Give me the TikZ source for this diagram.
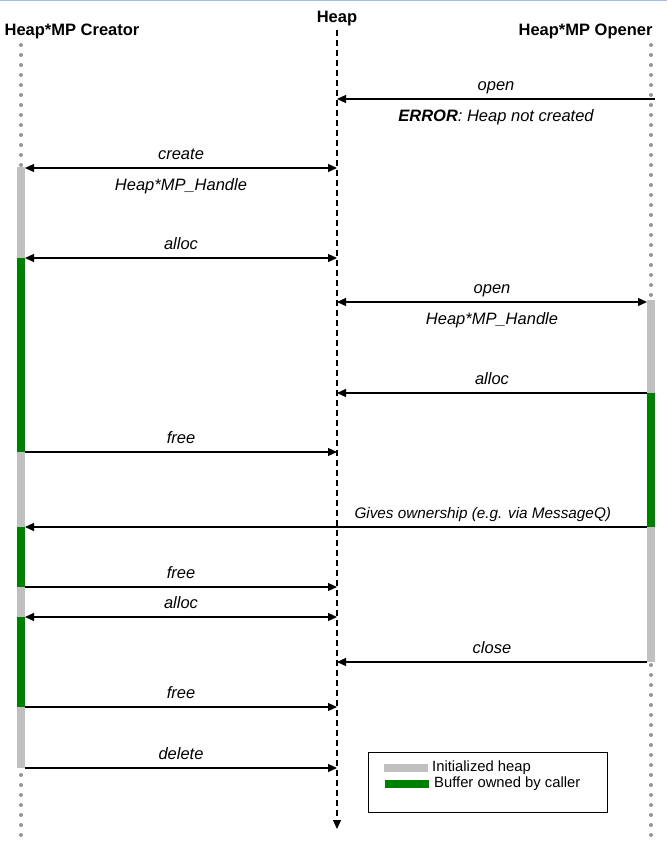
\documentclass[tikz,border=0pt]{standalone}
\usepackage{fontspec}
\setmainfont{Liberation Sans}
\usepackage{tikz}
\usetikzlibrary{arrows.meta}
\definecolor{initgray}{RGB}{192,192,192}
\definecolor{bufgreen}{RGB}{0,128,0}
\definecolor{dotgray}{RGB}{150,150,150}
\definecolor{topblue}{RGB}{160,190,230}
\tikzset{
	tip/.tip={Triangle[length=9pt,width=8pt]},
	msg/.style={line width=1.2pt,-tip},
	msgboth/.style={line width=1.2pt,tip-tip},
	above lbl/.style={midway,anchor=base,yshift=9pt,font=\fontsize{16.5}{19}\selectfont\itshape},
	below lbl/.style={midway,anchor=base,yshift=-22pt,font=\fontsize{16.5}{19}\selectfont\itshape},
	title/.style={font=\fontsize{16.5}{19}\selectfont\bfseries},
	dotline/.style={dotgray,line width=4pt,line cap=round,dash pattern=on 0pt off 10pt},
	initbar/.style={initgray,line width=8pt},
	bufbar/.style={bufgreen,line width=8pt}
}
\begin{document}
\begin{tikzpicture}[line join=round,x=1pt,y=-1pt]
		\useasboundingbox (0,0) rectangle (667,849);
		\draw[topblue,line width=1.5pt] (0,0.5) -- (667,0.5);
		% lifelines
		\node[title] (creator) at (72,31) {Heap*MP Creator};
		\node[title] (heap) at (337,19) {Heap};
		\node[title,anchor=east] (opener) at (656,31) {Heap*MP Opener};
		\draw[dotline] (21,45) -- (21,842);
		\draw[dotline] (651,45) -- (651,842);
		\draw[line width=1.2pt,dash pattern=on 6pt off 4pt,-tip] (heap.south) -- (337,829);
		% activation bars
		\draw[initbar] (21,167) -- (21,768);
		\draw[bufbar] (21,258) -- (21,452);
		\draw[bufbar] (21,527) -- (21,587);
		\draw[bufbar] (21,617) -- (21,707);
		\draw[initbar] (651,300) -- (651,662);
		\draw[bufbar] (651,393) -- (651,527);
		% message end points
		\foreach \n/\y in {1/99,2/168,3/258,4/302,5/393,6/452,7/527,8/587,9/617,10/662,11/707,12/768}{
			\coordinate (c\n) at (25,\y);
			\coordinate (h\n) at (337,\y);
			\coordinate (o\n) at (647,\y);
		}
		\coordinate (o1) at (655,99);
		% messages
		\draw[msg] (o1) -- (h1) node[above lbl] {open}
			node[below lbl] {\textbf{ERROR}: Heap not created};
		\draw[msgboth] (c2) -- (h2) node[above lbl] {create} node[below lbl] {Heap*MP\_Handle};
		\draw[msgboth] (c3) -- (h3) node[above lbl] {alloc};
		\draw[msgboth] (h4) -- (o4) node[above lbl] {open} node[below lbl] {Heap*MP\_Handle};
		\draw[msg] (o5) -- (h5) node[above lbl] {alloc};
		\draw[msg] (c6) -- (h6) node[above lbl] {free};
		\draw[msg] (o7) -- (c7) node[above lbl,pos=0.264,font=\fontsize{15.3}{18}\selectfont\itshape] {Gives ownership (e.g. via MessageQ)};
		\draw[msg] (c8) -- (h8) node[above lbl] {free};
		\draw[msgboth] (c9) -- (h9) node[above lbl] {alloc};
		\draw[msg] (o10) -- (h10) node[above lbl] {close};
		\draw[msg] (c11) -- (h11) node[above lbl] {free};
		\draw[msg] (c12) -- (h12) node[above lbl] {delete};
		% legend
		\draw[line width=1pt] (368,752) rectangle (607,812);
		\draw[initbar] (384,768) -- (428,768);
		\draw[bufbar] (385,784) -- (429,784);
		\node[anchor=west,inner sep=0pt,font=\fontsize{14.8}{17}\selectfont] (leginit) at (432,768) {Initialized heap};
		\node[anchor=west,inner sep=0pt,font=\fontsize{14.8}{17}\selectfont] (legbuf) at (434,784) {Buffer owned by caller};
\end{tikzpicture}
\end{document}
